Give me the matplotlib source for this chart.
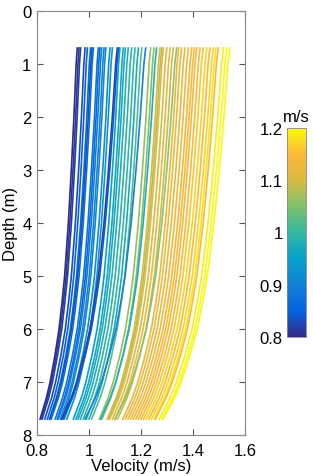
import matplotlib
matplotlib.use("Agg")
import matplotlib.pyplot as plt
import numpy as np
from matplotlib.colors import LinearSegmentedColormap, Normalize
from matplotlib.cm import ScalarMappable

plt.rcParams['font.family'] = ['Liberation Sans', 'DejaVu Sans']

# velocity at the top (depth 0.7 m) and at the bottom (depth 7.7 m) of each profile
top_vel = [0.955, 0.962, 0.968, 0.985, 0.994, 1.006, 1.012, 1.017, 1.036, 1.042,
           1.049, 1.058, 1.065, 1.081, 1.09, 1.109, 1.114, 1.119, 1.132, 1.14,
           1.151, 1.164, 1.177, 1.19, 1.203, 1.218, 1.237, 1.25, 1.26, 1.273,
           1.28, 1.286, 1.299, 1.312, 1.324, 1.337, 1.345, 1.356, 1.369, 1.382,
           1.395, 1.405, 1.414, 1.427, 1.439, 1.453, 1.465, 1.478, 1.488, 1.497,
           1.517, 1.53, 1.542]
bot_vel = [0.812, 0.815, 0.82, 0.83, 0.84, 0.848, 0.85, 0.855, 0.87, 0.878,
           0.882, 0.89, 0.895, 0.905, 0.915, 0.895, 0.90, 0.94, 0.95, 0.958,
           0.967, 0.978, 0.99, 1.0, 1.01, 0.985, 1.04, 1.05, 1.045, 1.07,
           1.075, 1.08, 1.09, 1.10, 1.11, 1.10, 1.13, 1.14, 1.15, 1.16,
           1.17, 1.18, 1.19, 1.20, 1.21, 1.22, 1.23, 1.24, 1.25, 1.255,
           1.27, 1.28, 1.285]
# colour value of each profile (m/s)
color_val = [0.80, 0.81, 0.82, 0.83, 0.85, 0.86, 0.83, 0.87, 0.88, 0.86,
             0.89, 0.90, 0.91, 0.92, 0.93, 0.82, 0.84, 0.95, 0.96, 0.97,
             0.98, 0.99, 1.00, 0.97, 1.02, 0.90, 1.06, 1.05, 0.98, 1.10,
             1.08, 1.11, 1.10, 1.12, 1.09, 1.06, 1.12, 1.13, 1.12, 1.14,
             1.13, 1.15, 1.14, 1.15, 1.16, 1.17, 1.15, 1.17, 1.18, 1.15,
             1.19, 1.20, 1.20]

# common profile shape: fraction of the top-to-bottom drop reached at each depth
depth = [0.7, 1, 2, 3, 4, 5, 5.5, 6, 6.5, 7, 7.3, 7.7]
shape = [0, 0.03, 0.09, 0.16, 0.24, 0.34, 0.41, 0.49, 0.60, 0.73, 0.83, 1.0]

parula = LinearSegmentedColormap.from_list('parula', [
    (0.208, 0.166, 0.529), (0.012, 0.388, 0.882), (0.078, 0.504, 0.838),
    (0.024, 0.629, 0.804), (0.199, 0.721, 0.631), (0.498, 0.758, 0.427),
    (0.85, 0.73, 0.26), (0.993, 0.72, 0.22), (0.976, 0.983, 0.054)])
norm = Normalize(0.8, 1.2)

fs = 12
fig = plt.figure(figsize=(3.13, 4.77), dpi=100)
ax = fig.add_axes([0.118, 0.086, 0.665, 0.889])

d = np.array(depth)
s = np.array(shape)
for t, b, c in zip(top_vel, bot_vel, color_val):
    ax.plot(t + (b - t) * s, d, color=parula(norm(c)), lw=1.2)

ax.set_xlim(0.8, 1.6)
ax.set_ylim(8, 0)
ax.set_xticks([0.8, 1, 1.2, 1.4, 1.6])
ax.set_xticklabels(['0.8', '1', '1.2', '1.4', '1.6'])
ax.set_yticks(range(0, 9))
ax.tick_params(direction='in', top=True, right=True, labelsize=fs, length=4,
               color='#555555')
ax.tick_params(axis='x', pad=6)
ax.tick_params(axis='y', pad=4)
for sp in ax.spines.values():
    sp.set_color('#888888')
    sp.set_linewidth(0.8)
ax.set_xlabel('Velocity (m/s)', fontsize=fs, labelpad=0)
ax.set_ylabel('Depth (m)', fontsize=fs, labelpad=3)

cax = fig.add_axes([0.917, 0.291, 0.062, 0.439])
cb = fig.colorbar(ScalarMappable(norm=norm, cmap=parula), cax=cax)
cb.set_ticks([0.8, 0.9, 1, 1.1, 1.2])
cb.set_ticklabels(['0.8', '0.9', '1', '1.1', '1.2'])
cax.yaxis.set_ticks_position('left')
cax.tick_params(length=0, labelsize=fs, pad=3)
cb.outline.set_edgecolor('#888888')
cb.outline.set_linewidth(0.6)
cax.set_title('m/s', fontsize=fs, pad=5)

fig.savefig('out.png', dpi=100)
